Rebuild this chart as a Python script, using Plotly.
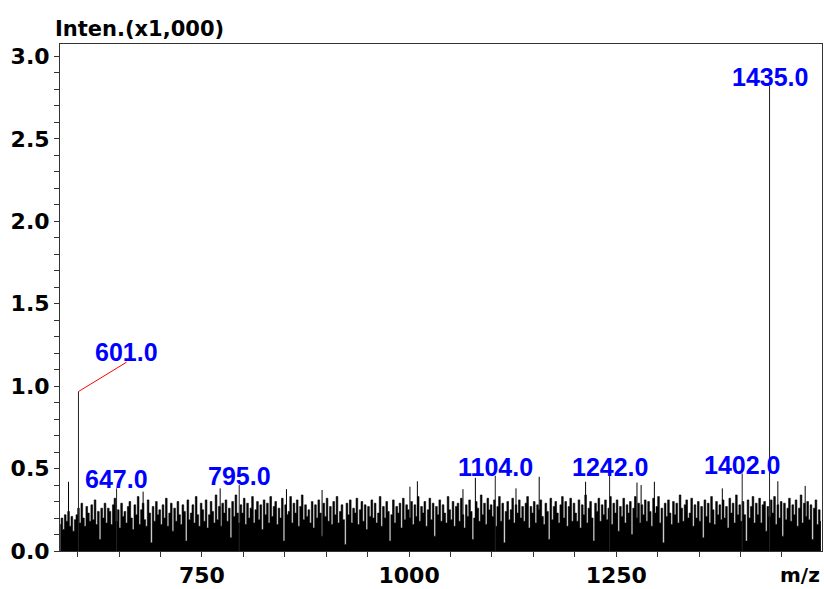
import plotly.graph_objects as go

# ---------------- data ----------------
# background noise: intensity (x1,000, in hundredths) every 2 m/z units from 579 to 1497
noise_start = 579
noise_step = 2
noise_rows = [
    "16 20 13 22 18 24 15 21 12 19",
    "22 26 17 29 20 15 27 23 18 28",
    "19 31 16 24 7 26 20 29 17 26",
    "24 16 28 32 18 25 14 29 21 24",
    "17 27 30 20 13 28 22 33 16 25",
    "29 19 15 31 23 5 27 18 30 22",
    "25 16 28 20 32 15 23 29 12 26",
    "18 30 22 16 28 24 6 31 19 23",
    "28 17 33 22 15 29 25 18 31 14",
    "22 30 24 17 34 19 27 15 29 23",
    "31 18 26 8 30 21 34 23 17 28",
    "23 32 16 29 20 26 33 17 25 30",
    "19 28 13 31 22 29 17 33 21 27",
    "30 16 26 20 32 6 28 22 24 33",
    "17 29 23 31 15 27 34 19 28 21",
    "25 17 30 14 28 20 31 23 9 29",
    "21 32 18 27 16 30 22 33 17 24",
    "28 19 4 29 22 31 17 26 23 32",
    "16 25 30 18 28 13 27 21 31 20",
    "29 17 23 33 15 27 20 30 24 6",
    "22 31 17 27 23 29 14 32 19 28",
    "25 20 30 16 28 21 33 18 27 23",
    "30 15 25 32 19 29 9 27 22 31",
    "18 28 23 17 33 25 19 30 15 27",
    "29 18 32 22 14 28 21 31 24 7",
    "20 30 26 18 34 22 29 16 32 25",
    "28 21 31 15 27 33 18 29 5 24",
    "30 19 25 32 17 28 23 31 20 27",
    "18 29 33 14 27 23 30 17 28 25",
    "31 21 16 29 24 7 32 19 27 30",
    "23 17 28 33 20 30 15 27 32 18",
    "29 23 18 31 14 28 22 34 17 26",
    "30 20 6 29 24 32 18 28 22 31",
    "19 26 33 16 29 23 31 12 27 21",
    "32 17 28 23 30 10 26 33 20 29",
    "17 28 22 31 18 30 24 15 32 23",
    "27 33 17 26 5 29 21 31 23 16",
    "30 22 29 17 34 26 18 28 31 20",
    "23 32 15 28 20 30 18 27 8 31",
    "21 29 17 33 25 16 30 22 28 19",
    "31 20 27 14 32 23 29 17 34 22",
    "28 18 30 22 6 31 20 27 33 17",
    "29 22 32 17 28 30 12 27 21 31",
    "23 33 16 28 20 30 9 29 19 26",
    "32 18 28 22 31 15 26 34 17 29",
    "21 30 19 28 7 26 31 16 25 18",
]

# isolated taller noise spikes (m/z, intensity x1,000)
spike_mz = [589, 679, 772, 852, 895, 1001, 1010, 1065, 1080, 1129, 1157, 1213, 1275, 1280, 1296, 1378, 1445, 1478]
spike_int = [0.42, 0.36, 0.38, 0.375, 0.37, 0.39, 0.423, 0.375, 0.444, 0.38, 0.45, 0.42, 0.415, 0.40, 0.42, 0.38, 0.423, 0.395]

# labelled peaks
peak_mz = [601.0, 647.0, 795.0, 1104.0, 1242.0, 1402.0, 1435.0]
peak_int = [0.967, 0.38, 0.40, 0.456, 0.456, 0.47, 2.82]
peak_labels = ["601.0", "647.0", "795.0", "1104.0", "1242.0", "1402.0", "1435.0"]

# label placed away from its peak, with a leader line (label anchor in data units)
offset_label = {"601.0": (659.0, 1.145)}

# ---------------- build ----------------
noise_vals = [int(v) / 100 for row in noise_rows for v in row.split()]
noise_mz = [noise_start + noise_step * i for i in range(len(noise_vals))]

fig = go.Figure()

fig.add_trace(go.Scatter(
    x=noise_mz, y=noise_vals, mode="lines",
    line=dict(color="black", width=0.6, shape="hvh"),
    fill="tozeroy", fillcolor="black", hoverinfo="skip", showlegend=False))


def sticks(xs, ys):
    sx, sy = [], []
    for a, b in zip(xs, ys):
        sx += [a, a, None]
        sy += [0, b, None]
    return sx, sy


sx, sy = sticks(spike_mz, spike_int)
fig.add_trace(go.Scatter(x=sx, y=sy, mode="lines", line=dict(color="black", width=1),
                         hoverinfo="skip", showlegend=False))

px_, py_ = sticks(peak_mz, peak_int)
fig.add_trace(go.Scatter(x=px_, y=py_, mode="lines", line=dict(color="#222222", width=1),
                         hoverinfo="skip", showlegend=False))

label_font = dict(family="Liberation Sans, Arial, sans-serif", size=25, color="#0000FF", weight="bold")
annotations = []
for mz, inten, lab in zip(peak_mz, peak_int, peak_labels):
    if lab in offset_label:
        lx, ly = offset_label[lab]
        fig.add_trace(go.Scatter(x=[mz, lx], y=[inten, ly], mode="lines",
                                 line=dict(color="#FF0000", width=1),
                                 hoverinfo="skip", showlegend=False))
        annotations.append(dict(x=lx, y=ly, xref="x", yref="y", text=lab, showarrow=False,
                                xanchor="center", yanchor="bottom", yshift=-6, font=label_font))
    else:
        annotations.append(dict(x=mz, y=inten, xref="x", yref="y", text=lab, showarrow=False,
                                xanchor="center", yanchor="bottom", yshift=-7, font=label_font))

axis_font = dict(family="DejaVu Sans, sans-serif", size=22, color="black", weight="bold")
title_font = dict(family="DejaVu Sans, sans-serif", size=21, color="black", weight="bold")

annotations.append(dict(x=0, y=1, xref="paper", yref="paper", text="Inten.(x1,000)",
                        showarrow=False, xanchor="left", yanchor="bottom", xshift=-7, yshift=1,
                        font=title_font))
annotations.append(dict(x=1, y=0, xref="paper", yref="paper", text="m/z",
                        showarrow=False, xanchor="right", yanchor="middle", xshift=0, yshift=-24,
                        font=dict(family="DejaVu Sans, sans-serif", size=20, color="black", weight="bold")))

fig.update_layout(
    width=824, height=589,
    margin=dict(l=60, r=1, t=44, b=36),
    paper_bgcolor="white", plot_bgcolor="white",
    showlegend=False,
    annotations=annotations,
    xaxis=dict(range=[578.7, 1498.3], showgrid=False, zeroline=False,
               showline=True, linecolor="#333333", linewidth=1, mirror=True,
               ticks="outside", ticklen=5, tickwidth=1, tickcolor="#333333",
               tick0=0, dtick=250, tickfont=axis_font,
               minor=dict(dtick=50, ticks="outside", ticklen=5, tickwidth=1, tickcolor="#333333", showgrid=False)),
    yaxis=dict(range=[0, 3.075], showgrid=False, zeroline=False,
               showline=True, linecolor="#333333", linewidth=1, mirror=True,
               ticks="outside", ticklen=5, tickwidth=1, tickcolor="#333333",
               tick0=0, dtick=0.5, tickformat=".1f", tickfont=axis_font,
               minor=dict(dtick=0.1, ticks="outside", ticklen=5, tickwidth=1, tickcolor="#333333", showgrid=False)),
)

fig.write_html("out.html")
